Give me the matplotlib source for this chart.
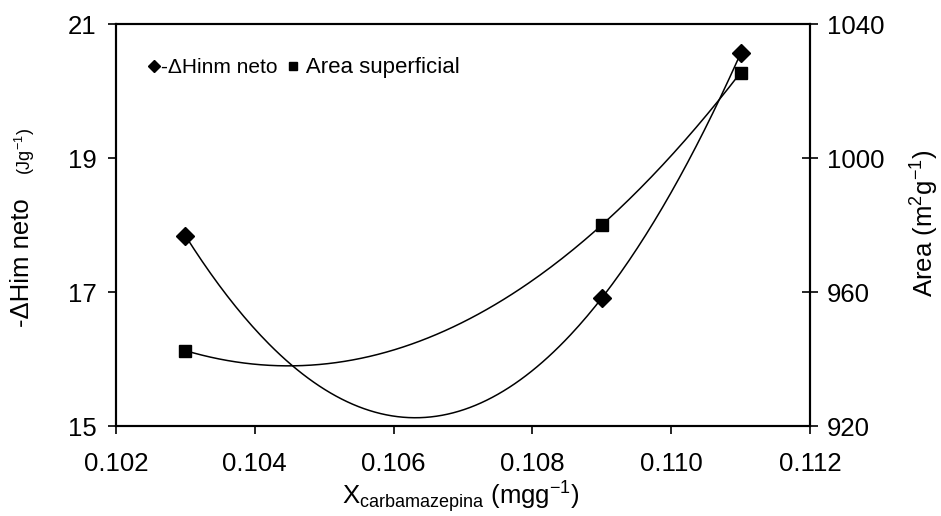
import numpy as np
import matplotlib
matplotlib.use("Agg")
import matplotlib.pyplot as plt
from matplotlib.lines import Line2D

plt.rcParams['font.family'] = ['Liberation Sans', 'DejaVu Sans']
plt.rcParams['mathtext.fontset'] = 'custom'
plt.rcParams['mathtext.rm'] = 'Liberation Sans'
plt.rcParams['mathtext.it'] = 'Liberation Sans'

# datos
x_carb = [0.103, 0.109, 0.111]
dH_neto = [17.84, 16.91, 20.56]        # eje izquierdo
area_sup = [942.5, 980.0, 1025.5]      # eje derecho

fig = plt.figure(figsize=(9.41, 5.16), dpi=100)
ax = fig.add_axes([116/941, 1-426/516, (810-116)/941, (426-24)/516])
ax2 = ax.twinx()

# lineas de tendencia polinomicas (orden 2), como en Excel
xs = np.linspace(min(x_carb), max(x_carb), 200)
p1 = np.polyfit(x_carb, dH_neto, 2)
p2 = np.polyfit(x_carb, area_sup, 2)
ax.plot(xs, np.polyval(p1, xs), color='black', lw=1.1)
ax2.plot(xs, np.polyval(p2, xs), color='black', lw=1.1)

ax.plot(x_carb, dH_neto, ls='none', marker='D', ms=9, color='black')
ax2.plot(x_carb, area_sup, ls='none', marker='s', ms=8, color='black')

ax.set_xlim(0.102, 0.112)
ax.set_ylim(15, 21)
ax2.set_ylim(920, 1040)
ax.set_xticks([0.102, 0.104, 0.106, 0.108, 0.110, 0.112])
ax.set_xticklabels(['0.102', '0.104', '0.106', '0.108', '0.110', '0.112'])
ax.set_yticks([15, 17, 19, 21])
ax2.set_yticks([920, 960, 1000, 1040])

for s in ax.spines.values():
    s.set_linewidth(1.5)
for s in ax2.spines.values():
    s.set_linewidth(1.5)
ax.tick_params(axis='x', direction='out', length=6, width=1.2, labelsize=18.5, pad=13)
ax.tick_params(axis='y', direction='out', length=6, width=1.2, labelsize=18.5, pad=8)
ax2.tick_params(axis='y', direction='inout', length=12, width=1.2, labelsize=18.5, pad=6)

# etiquetas de ejes
fig.text(0.0234, 0.492, '-ΔHim neto', rotation=90, fontsize=18.5, ha='center', va='center')
fig.text(0.0266, 0.707, '(Jg$^{-1}$)', rotation=90, fontsize=13, ha='center', va='center')
fig.text(0.983, 0.568, 'Area (m$^{2}$g$^{-1}$)', rotation=90, fontsize=18.5, ha='center', va='center')
fig.text(0.49, 0.036, 'X$_{\\mathregular{carbamazepina}}$ (mgg$^{-1}$)', fontsize=18.5, ha='center', va='center')

handles = [Line2D([], [], ls='none', marker='D', ms=6, color='black'),
           Line2D([], [], ls='none', marker='s', ms=6, color='black')]
leg = ax.legend(handles, ['-ΔHinm neto', ' Area superficial'], loc='upper left',
                bbox_to_anchor=(0.035, 0.938), ncol=2, frameon=False, fontsize=15,
                handlelength=0.5, handletextpad=0.1, columnspacing=0.5, borderaxespad=0)
leg.get_texts()[1].set_fontsize(16)

fig.savefig('out.png', dpi=100)
